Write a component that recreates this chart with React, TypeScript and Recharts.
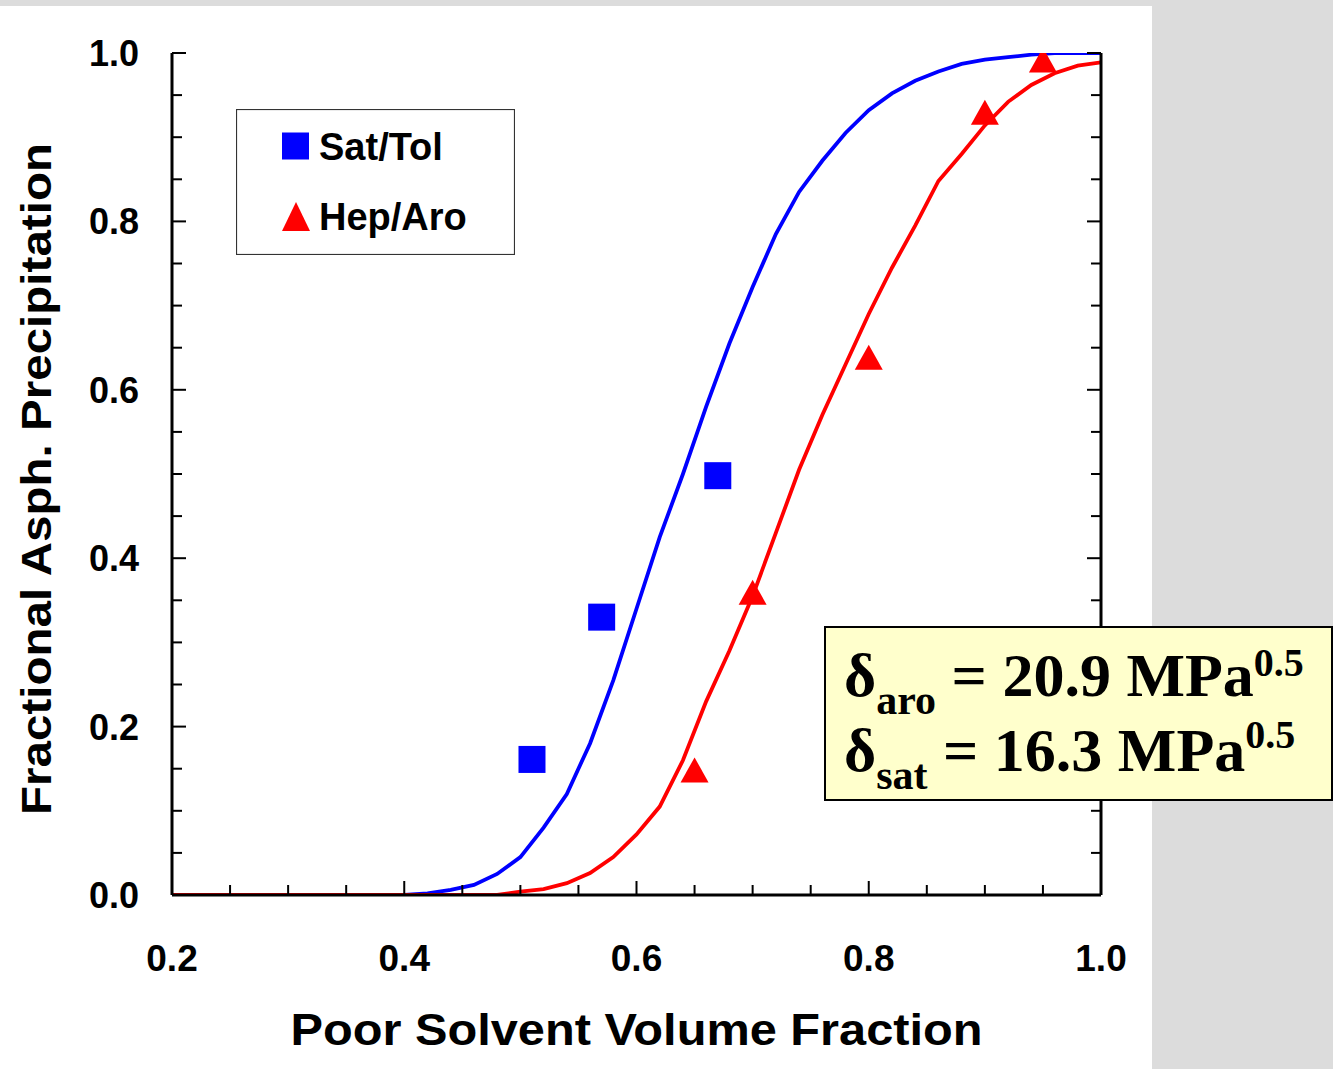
import React from 'react'
import { ComposedChart, Line, Scatter, XAxis, YAxis, Legend, Label } from 'recharts'

// ---- data ----
const X_TICKS = [0.2, 0.25, 0.3, 0.35, 0.4, 0.45, 0.5, 0.55, 0.6, 0.65, 0.7, 0.75, 0.8, 0.85, 0.9, 0.95, 1.0]
const Y_TICKS = [0, 0.05, 0.1, 0.15, 0.2, 0.25, 0.3, 0.35, 0.4, 0.45, 0.5, 0.55, 0.6, 0.65, 0.7, 0.75, 0.8, 0.85, 0.9, 0.95, 1.0]

const SAT_TOL_X = [0.51, 0.57, 0.67]
const SAT_TOL_Y = [0.161, 0.33, 0.498]
const HEP_ARO_X = [0.65, 0.7, 0.8, 0.9, 0.95]
const HEP_ARO_Y = [0.148, 0.359, 0.638, 0.929, 0.991]

const FIT_X = [
  0.2, 0.22, 0.24, 0.26, 0.28, 0.3, 0.32, 0.34, 0.36, 0.38, 0.4, 0.42, 0.44, 0.46, 0.48, 0.5, 0.52, 0.54, 0.56, 0.58, 0.6,
  0.62, 0.64, 0.66, 0.68, 0.7, 0.72, 0.74, 0.76, 0.78, 0.8, 0.82, 0.84, 0.86, 0.88, 0.9, 0.92, 0.94, 0.96, 0.98, 1.0,
]
const SAT_TOL_FIT = [
  0, 0, 0, 0, 0, 0, 0, 0, 0, 0, 0, 0.002, 0.006, 0.012, 0.025, 0.045, 0.08, 0.12, 0.18, 0.255, 0.34,
  0.425, 0.5, 0.58, 0.655, 0.722, 0.785, 0.835, 0.872, 0.905, 0.932, 0.952, 0.967, 0.978, 0.987, 0.992, 0.995, 0.998, 1, 1, 1,
]
const HEP_ARO_FIT = [
  0, 0, 0, 0, 0, 0, 0, 0, 0, 0, 0, 0, 0, 0, 0, 0.004, 0.007, 0.014, 0.026, 0.045, 0.072,
  0.105, 0.16, 0.23, 0.29, 0.355, 0.43, 0.505, 0.57, 0.63, 0.69, 0.745, 0.795, 0.848, 0.88, 0.914, 0.942, 0.962, 0.976, 0.985, 0.989,
]

const SERIES = [
  { name: 'Sat/Tol', color: '#0000FF', marker: 'square' },
  { name: 'Hep/Aro', color: '#FF0000', marker: 'triangle' },
]

const fitData = FIT_X.map((x, i) => ({ x, sat: SAT_TOL_FIT[i], hep: HEP_ARO_FIT[i] }))
const satPoints = SAT_TOL_X.map((x, i) => ({ x, y: SAT_TOL_Y[i] }))
const hepPoints = HEP_ARO_X.map((x, i) => ({ x, y: HEP_ARO_Y[i] }))

const SANS = '"Liberation Sans", Arial, sans-serif'
const SERIF = '"Liberation Serif", "Times New Roman", serif'
const GRAY = '#DCDCDC'

const isMajor = (v: number) => Math.abs(v * 5 - Math.round(v * 5)) < 1e-6
const tickLen = (v: number) => (isMajor(v) ? 14 : 10)

function BottomTick({ x, y, payload }: any) {
  const v = payload.value
  return (
    <g>
      <line x1={x} y1={y} x2={x} y2={y - tickLen(v)} stroke="#000" strokeWidth={2} />
      {isMajor(v) && (
        <text x={x} y={y + 76} textAnchor="middle" fontFamily={SANS} fontWeight="bold" fontSize={37} fill="#000">
          {v.toFixed(1)}
        </text>
      )}
    </g>
  )
}

function TopTick({ x, y, payload }: any) {
  return <line x1={x} y1={y} x2={x} y2={y + tickLen(payload.value)} stroke="#000" strokeWidth={2} />
}

function LeftTick({ x, y, payload }: any) {
  const v = payload.value
  return (
    <g>
      <line x1={x} y1={y} x2={x + tickLen(v)} y2={y} stroke="#000" strokeWidth={2} />
      {isMajor(v) && (
        <text x={x - 33} y={y + 13} textAnchor="end" fontFamily={SANS} fontWeight="bold" fontSize={36} fill="#000">
          {v.toFixed(1)}
        </text>
      )}
    </g>
  )
}

function RightTick({ x, y, payload }: any) {
  return <line x1={x} y1={y} x2={x - tickLen(payload.value)} y2={y} stroke="#000" strokeWidth={2} />
}

function SquareDot({ cx, cy, fill }: any) {
  return <rect x={cx - 13.5} y={cy - 13.5} width={27} height={27} fill={fill} />
}

function TriangleDot({ cx, cy, fill }: any) {
  return <polygon points={`${cx},${cy - 13} ${cx - 14},${cy + 12} ${cx + 14},${cy + 12}`} fill={fill} />
}

function LegendBox() {
  return (
    <svg width={279} height={146} style={{ display: 'block' }}>
      <rect x={0.5} y={0.5} width={278} height={145} fill="#fff" stroke="#333" strokeWidth={1.2} />
      {SERIES.map((s, i) => {
        const cy = 37 + i * 70
        return (
          <g key={s.name}>
            {s.marker === 'square' ? (
              <rect x={46} y={cy - 13.5} width={27} height={27} fill={s.color} />
            ) : (
              <polygon points={`60,${cy - 14} 46,${cy + 15} 74,${cy + 15}`} fill={s.color} />
            )}
            <text x={83} y={cy + 14} fontFamily={SANS} fontWeight="bold" fontSize={38} fill="#000">
              {s.name}
            </text>
          </g>
        )
      })}
    </svg>
  )
}

function XTitle({ viewBox }: any) {
  return (
    <text
      x={viewBox.x + viewBox.width / 2}
      y={viewBox.y + 150}
      textAnchor="middle"
      fontFamily={SANS}
      fontWeight="bold"
      fontSize={44}
      textLength={692}
      lengthAdjust="spacingAndGlyphs"
      fill="#000"
    >
      Poor Solvent Volume Fraction
    </text>
  )
}

function YTitle({ viewBox }: any) {
  const cy = viewBox.y + viewBox.height / 2 + 5
  return (
    <text
      transform={`translate(51 ${cy}) rotate(-90)`}
      textAnchor="middle"
      fontFamily={SANS}
      fontWeight="bold"
      fontSize={43}
      textLength={672}
      lengthAdjust="spacingAndGlyphs"
      fill="#000"
    >
      Fractional Asph. Precipitation
    </text>
  )
}

function DeltaLine({ y, sub, value, supRise }: { y: number; sub: string; value: string; supRise: number }) {
  return (
    <text x={844} y={y} fontFamily={SERIF} fontWeight="bold" fontSize={62} fill="#000">
      δ<tspan fontSize={42} dy={18}>{sub}</tspan>
      <tspan fontSize={62} dy={-18}>{` = ${value} MPa`}</tspan>
      <tspan fontSize={40} dy={-supRise}>0.5</tspan>
    </text>
  )
}

function Annotation() {
  return (
    <svg width={1333} height={1069} style={{ position: 'absolute', left: 0, top: 0, pointerEvents: 'none' }}>
      <rect x={825} y={627} width={507} height={173} fill="#FFFFCC" stroke="#000" strokeWidth={2} />
      <DeltaLine y={696} sub="aro" value="20.9" supRise={20} />
      <DeltaLine y={771} sub="sat" value="16.3" supRise={23} />
    </svg>
  )
}

export default function App() {
  const axisLine = { stroke: '#000', strokeWidth: 3 }
  return (
    <div style={{ position: 'absolute', left: 0, top: 0, width: 1333, height: 1069, background: GRAY, overflow: 'hidden' }}>
      <div style={{ position: 'absolute', left: 0, top: 6, width: 1152, height: 1063, background: '#fff' }} />
      <div style={{ position: 'absolute', left: 0, top: 0 }}>
        <ComposedChart width={1333} height={1069} data={fitData} margin={{ top: 53, right: 0, bottom: 0, left: 0 }}>
          <XAxis
            xAxisId="bottom"
            dataKey="x"
            type="number"
            domain={[0.2, 1]}
            ticks={X_TICKS}
            allowDataOverflow
            height={174}
            tickSize={0}
            tickMargin={0}
            tickLine={false}
            axisLine={axisLine}
            tick={<BottomTick />}
            interval={0}
          >
            <Label content={<XTitle />} />
          </XAxis>
          <XAxis
            xAxisId="top"
            orientation="top"
            dataKey="x"
            type="number"
            domain={[0.2, 1]}
            ticks={X_TICKS}
            allowDataOverflow
            height={0}
            tickSize={0}
            tickMargin={0}
            tickLine={false}
            axisLine={axisLine}
            tick={<TopTick />}
            interval={0}
          />
          <YAxis
            yAxisId="left"
            type="number"
            domain={[0, 1]}
            ticks={Y_TICKS}
            allowDataOverflow
            width={172}
            tickSize={0}
            tickMargin={0}
            tickLine={false}
            axisLine={axisLine}
            tick={<LeftTick />}
            interval={0}
          >
            <Label content={<YTitle />} />
          </YAxis>
          <YAxis
            yAxisId="right"
            orientation="right"
            type="number"
            domain={[0, 1]}
            ticks={Y_TICKS}
            allowDataOverflow
            width={232}
            tickSize={0}
            tickMargin={0}
            tickLine={false}
            axisLine={axisLine}
            tick={<RightTick />}
            interval={0}
          />
          <Line
            xAxisId="bottom"
            yAxisId="left"
            dataKey="sat"
            type="linear"
            stroke={SERIES[0].color}
            strokeWidth={3.8}
            dot={false}
            isAnimationActive={false}
            legendType="none"
          />
          <Line
            xAxisId="bottom"
            yAxisId="left"
            dataKey="hep"
            type="linear"
            stroke={SERIES[1].color}
            strokeWidth={3.8}
            dot={false}
            isAnimationActive={false}
            legendType="none"
          />
          <Scatter
            xAxisId="bottom"
            yAxisId="left"
            name={SERIES[0].name}
            data={satPoints}
            dataKey="y"
            fill={SERIES[0].color}
            shape={<SquareDot />}
            isAnimationActive={false}
          />
          <Scatter
            xAxisId="bottom"
            yAxisId="left"
            name={SERIES[1].name}
            data={hepPoints}
            dataKey="y"
            fill={SERIES[1].color}
            shape={<TriangleDot />}
            isAnimationActive={false}
          />
          <Legend
            layout="vertical"
            align="center"
            verticalAlign="middle"
            content={<LegendBox />}
            wrapperStyle={{ left: 236, top: 109, width: 279, height: 146 }}
          />
        </ComposedChart>
      </div>
      <Annotation />
    </div>
  )
}
